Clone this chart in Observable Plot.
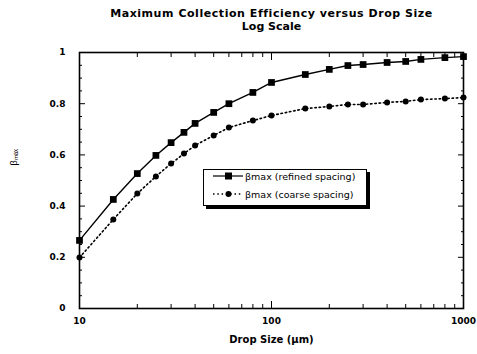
<!DOCTYPE html>
<html>
<head>
<meta charset="utf-8">
<script src="https://cdn.jsdelivr.net/npm/d3@7"></script>
<script src="https://cdn.jsdelivr.net/npm/@observablehq/plot@0.6"></script>
<style>
  body { margin: 0; background: #fff; font-family: "Liberation Sans", Arial, sans-serif; }
  #wrap { position: relative; width: 477px; height: 354px; }
  #legend { position: absolute; left: 203px; top: 169px; width: 162px; height: 35px;
    border: 1.5px solid #000; box-shadow: 3px 3px 0 #000; background: #fff;
    font-family: "DejaVu Sans", sans-serif; font-size: 9.5px; }
  .row { position: absolute; left: 0; height: 12px; display: flex; align-items: center; white-space: nowrap; }
  .row svg { display: block; }
</style>
</head>
<body>
<div id="wrap"></div>
<script>
const sizes   = [10, 15, 20, 25, 30, 35, 40, 50, 60, 80, 100, 150, 200, 250, 300, 400, 500, 600, 800, 1000];
const refined = [0.266, 0.426, 0.527, 0.598, 0.648, 0.688, 0.723, 0.766, 0.800, 0.844, 0.883, 0.914, 0.934, 0.949, 0.953, 0.961, 0.965, 0.973, 0.980, 0.984];
const coarse  = [0.199, 0.348, 0.449, 0.516, 0.566, 0.605, 0.637, 0.676, 0.707, 0.734, 0.754, 0.781, 0.789, 0.797, 0.797, 0.805, 0.809, 0.816, 0.820, 0.824];
const xMajor = [10, 100, 1000];
const xMinor = [20, 30, 40, 50, 60, 70, 80, 90, 200, 300, 400, 500, 600, 700, 800, 900];
const yMajor = [0, 0.2, 0.4, 0.6, 0.8, 1];
const yMinor = [0.05, 0.1, 0.15, 0.25, 0.3, 0.35, 0.45, 0.5, 0.55, 0.65, 0.7, 0.75, 0.85, 0.9, 0.95];
const titleLines = ["Maximum Collection Efficiency versus Drop Size", "Log Scale"];
const xTitle = "Drop Size (\u03bcm)";
const yTitle = "\u03b2\u2098\u2090\u2093";
const seriesNames = ["\u03b2max (refined spacing)", "\u03b2max (coarse spacing)"];

const rows = sizes.map((s, i) => ({size: s, refined: refined[i], coarse: coarse[i]}));
const boldFont = "DejaVu Sans, sans-serif";

const chart = Plot.plot({
  width: 477, height: 354,
  marginTop: 52, marginBottom: 46, marginLeft: 79, marginRight: 14,
  style: {fontFamily: "Liberation Sans, Arial, sans-serif", color: "#000", background: "#fff"},
  x: {type: "log", domain: [10, 1000]},
  y: {domain: [0, 1]},
  marks: [
    // tick labels
    Plot.axisX(xMajor, {anchor: "bottom", tickSize: 0, tickPadding: 9, fontWeight: "bold", fontFamily: boldFont, fontSize: 9, tickFormat: d => String(d), label: null}),
    Plot.axisY(yMajor, {anchor: "left", tickSize: 0, tickPadding: 14, fontWeight: "bold", fontFamily: boldFont, fontSize: 9, tickFormat: d => String(d), label: null}),
    // inward ticks
    Plot.axisX(xMajor, {anchor: "bottom", tickSize: 7, dy: -7, fill: "none", label: null}),
    Plot.axisX(xMinor, {anchor: "bottom", tickSize: 4, dy: -4, fill: "none", label: null}),
    Plot.axisX(xMajor, {anchor: "top", tickSize: 7, dy: 7, fill: "none", label: null}),
    Plot.axisX(xMinor, {anchor: "top", tickSize: 4, dy: 4, fill: "none", label: null}),
    Plot.axisY(yMajor, {anchor: "left", tickSize: 6, dx: 6, fill: "none", label: null}),
    Plot.axisY(yMinor, {anchor: "left", tickSize: 3, dx: 3, fill: "none", label: null}),
    Plot.axisY(yMajor, {anchor: "right", tickSize: 6, dx: -6, fill: "none", label: null}),
    Plot.axisY(yMinor, {anchor: "right", tickSize: 3, dx: -3, fill: "none", label: null}),
    Plot.frame({stroke: "#000", strokeWidth: 1.6}),
    // series
    Plot.line(rows, {x: "size", y: "refined", stroke: "#000", strokeWidth: 1.4}),
    Plot.dot(rows, {x: "size", y: "refined", symbol: "square", r: 3.8, fill: "#000", stroke: "none"}),
    Plot.line(rows, {x: "size", y: "coarse", stroke: "#000", strokeWidth: 1.6, strokeDasharray: "1.5,2.8"}),
    Plot.dot(rows, {x: "size", y: "coarse", symbol: "circle", r: 3, fill: "#000", stroke: "none"}),
    // titles
    Plot.text([titleLines[0]], {frameAnchor: "top", dy: -43, lineAnchor: "top", fontWeight: "bold", fontFamily: boldFont, fontSize: 11, text: d => d}),
    Plot.text([titleLines[1]], {frameAnchor: "top", dy: -30, lineAnchor: "top", fontWeight: "bold", fontFamily: boldFont, fontSize: 11, text: d => d}),
    Plot.text([xTitle], {frameAnchor: "bottom", dy: 34, fontWeight: "bold", fontFamily: boldFont, fontSize: 10, text: d => d}),
    Plot.text([yTitle], {frameAnchor: "left", dx: -65, dy: -15, rotate: -90, fontSize: 9, text: d => d})
  ]
});
const wrap = document.getElementById("wrap");
wrap.appendChild(chart);
d3.select(chart).selectAll("text").filter(function () { return this.textContent === titleLines[0]; })
  .style("letter-spacing", "0.55px");

// legend overlay
const legend = document.createElement("div");
legend.id = "legend";
seriesNames.forEach((name, i) => {
  const row = document.createElement("div");
  row.className = "row";
  row.style.top = (i === 0 ? 0 : 18) + "px";
  row.style.left = "8px";
  const ns = "http://www.w3.org/2000/svg";
  const s = document.createElementNS(ns, "svg");
  s.setAttribute("width", 32); s.setAttribute("height", 12);
  const ln = document.createElementNS(ns, "line");
  ln.setAttribute("x1", 1); ln.setAttribute("x2", 31); ln.setAttribute("y1", 6); ln.setAttribute("y2", 6);
  ln.setAttribute("stroke", "#000"); ln.setAttribute("stroke-width", i === 0 ? 1.2 : 1.5);
  if (i === 1) ln.setAttribute("stroke-dasharray", "1.5,2.8");
  s.appendChild(ln);
  let mk;
  if (i === 0) {
    mk = document.createElementNS(ns, "rect");
    mk.setAttribute("x", 13); mk.setAttribute("y", 2.5); mk.setAttribute("width", 7); mk.setAttribute("height", 7);
  } else {
    mk = document.createElementNS(ns, "circle");
    mk.setAttribute("cx", 16.5); mk.setAttribute("cy", 6); mk.setAttribute("r", 3);
  }
  mk.setAttribute("fill", "#000");
  s.appendChild(mk);
  row.appendChild(s);
  const t = document.createElement("span");
  t.textContent = name;
  t.style.marginLeft = "1px";
  row.appendChild(t);
  legend.appendChild(row);
});
wrap.appendChild(legend);
</script>
</body>
</html>
